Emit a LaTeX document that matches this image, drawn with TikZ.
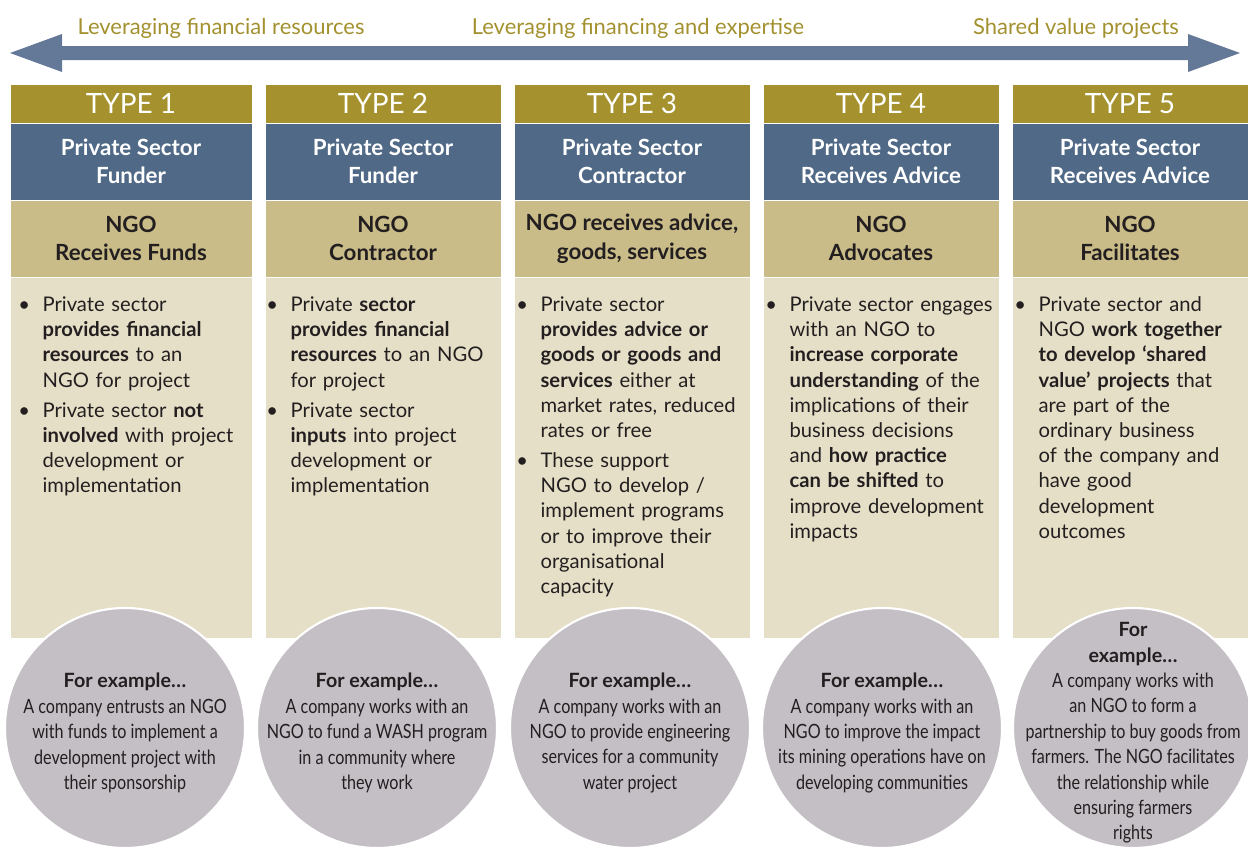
\documentclass[tikz,border=0pt]{standalone}
\usepackage{fontspec}
\setmainfont{Lato}
\newfontfamily\narrowfont[FakeStretch=0.82]{Lato}

\definecolor{typeolive}{HTML}{A5922E}
\definecolor{psblue}{HTML}{4F6987}
\definecolor{ngotan}{HTML}{C9BC88}
\definecolor{bodytan}{HTML}{E6DFC7}
\definecolor{exgrey}{HTML}{C4BFC5}
\definecolor{arrowblue}{HTML}{647898}
\definecolor{labolive}{HTML}{A3912F}
\definecolor{inkdark}{HTML}{231F20}

% one px of the layout
\def\px{0.02cm}
% bullet with hanging indent
\newcommand\bitem{\par\vspace{2.8pt}\noindent\hangindent=13.8pt\hangafter=1\makebox[13.8pt][l]{\textbullet}}
% bold lead-in of the bubbles
\newcommand\forex{{\rmfamily\bfseries For example\ldots}}

\tikzset{
  panel/.style={inner sep=0pt, outer sep=0pt, draw=white, line width=0.3pt, anchor=north west},
  typebox/.style={panel, fill=typeolive, text=white, minimum height=39*\px, font=\fontsize{15.9}{18}\selectfont},
  sectorbox/.style={panel, fill=psblue, text=white, align=center, minimum height=77*\px, font=\bfseries\fontsize{12.7}{16}\selectfont},
  ngobox/.style={panel, fill=ngotan, text=inkdark, align=center, minimum height=77*\px, font=\bfseries\fontsize{12.7}{16.3}\selectfont},
  bodybox/.style={panel, fill=bodytan, minimum height=361*\px},
  bodytext/.style={anchor=north west, inner sep=0pt, text width=135pt, text=inkdark,
    font=\fontsize{11.5}{14.34}\selectfont},
  exbubble/.style={circle, fill=exgrey, draw=white, line width=1.2pt, minimum size=240*\px, inner sep=0pt},
  extext/.style={align=center, inner sep=0pt, text=inkdark, font=\narrowfont\fontsize{11.2}{14.45}\selectfont},
  scalelabel/.style={text=labolive, font=\fontsize{12.5}{14}\selectfont}
}

\begin{document}
\begin{tikzpicture}[x=\px, y=-\px]
  \useasboundingbox (0,0) rectangle (1248,846);

  % scale arrow on top
  \fill[arrowblue] (10,53) -- (62,34) -- (62,46) -- (1188,46) -- (1188,34) -- (1240,53)
    -- (1188,72) -- (1188,60) -- (62,60) -- (62,72) -- cycle;
  \node[scalelabel] (lev1) at (221,28) {Leveraging financial resources};
  \node[scalelabel] (lev2) at (638,28) {Leveraging financing and expertise};
  \node[scalelabel] (lev3) at (1076,28) {Shared value projects};

  % the five columns
  \foreach \x/\w/\n/\who/\ngo in {
      10/242/1/{Private Sector\\Funder}/{NGO\\Receives Funds},
      265/236/2/{Private Sector\\Funder}/{NGO\\Contractor},
      514/236/3/{Private Sector\\Contractor}/{NGO receives advice,\\goods, services},
      763/236/4/{Private Sector\\Receives Advice}/{NGO\\Advocates},
      1012/236/5/{Private Sector\\Receives Advice}/{NGO\\Facilitates}} {
    \node[typebox, minimum width=\w*\px] (t\n) at (\x,84) {TYPE \n};
    \node[sectorbox, minimum width=\w*\px] (s\n) at (\x,123) {\who};
    \node[ngobox, minimum width=\w*\px] (g\n) at (\x,200) {\ngo};
    \node[bodybox, minimum width=\w*\px] (p\n) at (\x,277) {};
  }

  % bullet texts
  \node[bodytext] (b1) at (18,281) {%
    \bitem Private sector\newline \textbf{provides financial}\newline \textbf{resources} to an\newline NGO for project
    \bitem Private sector \textbf{not}\newline \textbf{involved} with project\newline development or\newline implementation\par};
  \node[bodytext] (b2) at (266,281) {%
    \bitem Private \textbf{sector}\newline \textbf{provides financial}\newline \textbf{resources} to an NGO\newline for project
    \bitem Private sector\newline \textbf{inputs} into project\newline development or\newline implementation\par};
  \node[bodytext] (b3) at (516,281) {%
    \bitem Private sector\newline \textbf{provides advice or}\newline \textbf{goods or goods and}\newline \textbf{services} either at\newline market rates, reduced\newline rates or free
    \bitem These support\newline NGO to develop /\newline implement programs\newline or to improve their\newline organisational\newline capacity\par};
  \node[bodytext] (b4) at (765,281) {%
    \bitem Private sector engages\newline with an NGO to\newline \textbf{increase corporate}\newline \textbf{understanding} of the\newline implications of their\newline business decisions\newline and \textbf{how practice}\newline \textbf{can be shifted} to\newline improve development\newline impacts\par};
  \node[bodytext] (b5) at (1014,281) {%
    \bitem Private sector and\newline NGO \textbf{work together}\newline \textbf{to develop ‘shared}\newline \textbf{value’ projects} that\newline are part of the\newline ordinary business\newline of the company and\newline have good\newline development\newline outcomes\par};

  % example bubbles
  \foreach \cx/\n in {125/1, 377/2, 630/3, 882/4, 1133/5}
    \node[exbubble] (c\n) at (\cx,728) {};

  \node[extext] (e1) at (125,733) {\forex\\A company entrusts an NGO\\with funds to implement a\\development project with\\their sponsorship};
  \node[extext] (e2) at (377,733) {\forex\\A company works with an\\NGO to fund a WASH program\\in a community where\\they work};
  \node[extext] (e3) at (630,733) {\forex\\A company works with an\\NGO to provide engineering\\services for a community\\water project};
  \node[extext] (e4) at (882,733) {\forex\\A company works with an\\NGO to improve the impact\\its mining operations have on\\developing communities};
  \node[extext] (e5) at (1133,733) {{\rmfamily\bfseries For}\\{\rmfamily\bfseries example\ldots}\\A company works with\\an NGO to form a\\partnership to buy goods from\\farmers. The NGO facilitates\\the relationship while\\ensuring farmers\\rights};
\end{tikzpicture}
\end{document}
